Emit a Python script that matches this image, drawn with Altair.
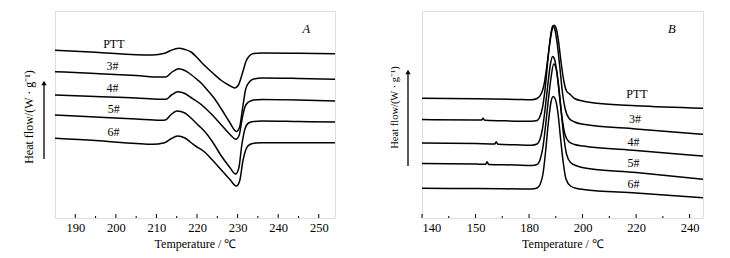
import altair as alt
import pandas as pd

FONT = "Liberation Serif"
BASE = 217  # readings below are depths from the top of the figure; heat flow = BASE - depth

# ---------------- Panel A (melting) ----------------
a_ptt_t = [185, 195, 205, 209, 212, 213.5, 215.5, 217, 218.5, 220, 221, 222, 224, 226, 228, 229.3, 230.2, 231.2, 232.1, 233, 234, 236, 245, 254]
a_ptt_v = [49.3, 51.3, 53.8, 54, 52.3, 49.5, 47.3, 48.5, 51, 56.5, 61, 65, 72.5, 79.5, 84.5, 87, 84, 72, 60, 54.5, 52.5, 52, 52.3, 52.7]

a_3_t = [185, 195, 205, 211, 212.3, 213.7, 215.5, 217, 218.5, 220, 221, 222, 224, 226, 228, 229.7, 230.5, 231.2, 232, 233, 234, 236, 245, 254]
a_3_v = [70.7, 72.5, 74.5, 76, 76, 71.5, 67.7, 69.5, 73.5, 78.5, 82, 86.5, 96, 108, 121, 130.5, 126, 108, 88, 80.5, 78, 77, 77.5, 78.3]

a_4_t = [185, 195, 205, 211, 212.3, 213.7, 215.3, 217, 218.5, 220, 221, 222, 224, 226, 228, 229.6, 230.4, 231.1, 231.8, 232.7, 234, 236, 245, 254]
a_4_v = [94, 95.5, 97, 98.3, 98.3, 94, 90.7, 92.5, 96.5, 100.5, 103.3, 107, 115, 124, 133, 138.3, 134, 118, 106, 101, 99, 98.5, 99, 100]

a_5_t = [185, 195, 205, 211, 212.2, 213.5, 215, 217, 218.5, 220, 221, 222, 224, 226, 228, 229.5, 230.3, 231, 231.8, 232.7, 234, 236, 245, 254]
a_5_v = [114, 116, 118, 119.3, 119, 114, 110, 112, 117, 123, 126.7, 131, 142, 155, 166, 173, 167, 145, 128, 122, 120.5, 120, 120.5, 121]

a_6_t = [185, 195, 205, 209, 212, 213.5, 215.2, 217, 218.5, 220, 221, 222, 224, 226, 228, 229.7, 230.5, 231.3, 232.1, 233, 234.5, 236, 254]
a_6_v = [137.3, 139.5, 142.5, 143.3, 141.7, 138, 135, 137, 141.5, 146, 148.3, 151.5, 160, 169, 178, 185, 180, 160, 148, 143.5, 142, 141.7, 141.7]

a_names = ["PTT", "3#", "4#", "5#", "6#"]
a_label_t = [199.5, 199.2, 199.2, 199.5, 199.4]
a_label_v = [43.3, 65, 86.7, 108.3, 130.7]

a_ticks_major = [190, 200, 210, 220, 230, 240, 250]
a_ticks_minor = [195, 205, 215, 225, 235, 245]

# ---------------- Panel B (crystallisation) ----------------
b_ptt_t = [140, 160, 175, 181, 183, 184.5, 185.5, 186.5, 187.5, 188.5, 189.3, 190.2, 191, 192, 193, 194, 195.3, 197, 200, 205.3, 220, 245]
b_ptt_v = [97.3, 97.8, 98.4, 98.7, 97.5, 93, 85, 68, 47, 30, 24.3, 28, 40, 62, 80, 90, 93.3, 97.5, 100, 102.3, 104.8, 107.3]

b_3_t = [140, 160, 162.3, 162.8, 163.4, 170, 181, 183, 184, 185, 186, 187, 188, 188.8, 189.6, 190.5, 191.5, 192.5, 193.5, 195, 197, 200.3, 220, 245]
b_3_v = [118.5, 119, 119, 117.2, 119.3, 119.8, 120.3, 119.5, 116, 107, 88, 60, 36, 25, 28, 42, 66, 92, 108, 117.5, 121, 123.3, 128, 133.3]

b_4_t = [140, 160, 167.2, 167.7, 168.4, 175, 181, 183, 184, 185, 186, 187, 188, 188.8, 189.6, 190.5, 191.5, 192.5, 193.5, 195, 197, 200.3, 220, 245]
b_4_v = [142, 142.5, 143, 140.8, 143.3, 143.8, 144.2, 143, 139, 128, 108, 84, 63, 55.5, 59, 74, 98, 120, 134, 141, 143.5, 145, 149.5, 155]

b_5_t = [140, 160, 163.8, 164.3, 164.9, 175, 181, 183, 184.2, 185.2, 186.2, 187.2, 188.2, 189.2, 190, 191, 192, 193, 194, 195.5, 198, 200.3, 220, 245]
b_5_v = [162.5, 163, 163.3, 160.8, 163.5, 164, 164.5, 163.5, 158, 146, 124, 99, 77, 63, 66, 83, 110, 136, 153, 161.5, 165, 166.7, 171.5, 178.3]

b_6_t = [140, 160, 181, 183, 184.2, 185.2, 186.2, 187.2, 188.2, 189, 189.8, 190.8, 191.8, 192.8, 193.8, 195.5, 198, 200.3, 220, 245]
b_6_v = [187.3, 187.6, 188, 187, 183, 173, 150, 122, 101, 95.5, 98, 112, 138, 162, 178, 185, 187.5, 188.5, 192, 196.7]

b_names = ["PTT", "3#", "4#", "5#", "6#"]
b_label_t = [220.3, 219.6, 219, 219, 219]
b_label_v = [93.3, 118.3, 141, 161.7, 183.3]

b_ticks_major = [140, 160, 180, 200, 220, 240]
b_ticks_minor = [150, 170, 190, 210, 230]


def curves(names, ts, vs):
    rows = []
    for n, t, v in zip(names, ts, vs):
        for ti, vi in zip(t, v):
            rows.append({"series": n, "T": ti, "hf": BASE - vi})
    return pd.DataFrame(rows)


def panel(df, lab_df, letter_df, major, minor, domain, width, ytitle_x, ytitle_y,
          ytitle_size, arrow_x, arrow_top, arrow_bot, label_expr):
    x_enc = alt.X("T:Q", scale=alt.Scale(domain=domain, nice=False, zero=False),
                  axis=alt.Axis(values=major, ticks=False, domain=False, grid=False,
                                labelPadding=3, labelFont=FONT, labelFontSize=12.5,
                                labelColor="black", labelExpr=label_expr,
                                title="Temperature / ℃", titleFont=FONT, titleFontSize=12,
                                titleFontWeight="normal", titleColor="black",
                                titleY=25, titleBaseline="middle"))
    y_enc = alt.Y("hf:Q", scale=alt.Scale(domain=[0, 207], nice=False, zero=False),
                  axis=alt.Axis(labels=False, ticks=False, domain=False, grid=False,
                                title="Heat flow/(W · g⁻¹)", titleFont=FONT,
                                titleFontSize=ytitle_size, titleFontWeight="normal",
                                titleColor="black", titleAngle=270, titleX=ytitle_x,
                                titleY=ytitle_y, titleAlign="center",
                                titleBaseline="middle"))
    lines = alt.Chart(df).mark_line(color="black", strokeWidth=1.5, interpolate="monotone").encode(
        x=x_enc, y=y_enc, detail="series:N")
    labels = alt.Chart(lab_df).mark_text(font=FONT, fontSize=12, color="black").encode(
        x=x_enc, y=y_enc, text="series:N")
    letter = alt.Chart(letter_df).mark_text(font=FONT, fontSize=12.5, fontStyle="italic",
                                            color="black").encode(x=x_enc, y=y_enc, text="series:N")
    tmaj = alt.Chart(pd.DataFrame({"T": major})).mark_rule(color="black", strokeWidth=1).encode(
        x=x_enc, y=alt.value(207), y2=alt.value(203))
    tmin = alt.Chart(pd.DataFrame({"T": minor})).mark_rule(color="black", strokeWidth=1).encode(
        x=x_enc, y=alt.value(207), y2=alt.value(205))
    one = pd.DataFrame({"k": [0]})
    arrow = alt.Chart(one).mark_rule(color="black", strokeWidth=1.3).encode(
        x=alt.value(arrow_x), y=alt.value(arrow_top + 5), y2=alt.value(arrow_bot))
    head = alt.Chart(one).mark_point(shape="triangle-up", filled=True, color="black",
                                     size=28, opacity=1).encode(
        x=alt.value(arrow_x), y=alt.value(arrow_top + 4))
    return alt.layer(lines, labels, letter, tmaj, tmin, arrow, head).properties(
        width=width, height=207)


dfa = curves(a_names, [a_ptt_t, a_3_t, a_4_t, a_5_t, a_6_t], [a_ptt_v, a_3_v, a_4_v, a_5_v, a_6_v])
dfb = curves(b_names, [b_ptt_t, b_3_t, b_4_t, b_5_t, b_6_t], [b_ptt_v, b_3_v, b_4_v, b_5_v, b_6_v])
laba = pd.DataFrame({"series": a_names, "T": a_label_t, "hf": [BASE - v for v in a_label_v]})
labb = pd.DataFrame({"series": b_names, "T": b_label_t, "hf": [BASE - v for v in b_label_v]})
leta = pd.DataFrame({"series": ["A"], "T": [246.9], "hf": [BASE - 28]})
letb = pd.DataFrame({"series": ["B"], "T": [233.3], "hf": [BASE - 28.3]})

pa = panel(dfa, laba, leta, a_ticks_major, a_ticks_minor, [185, 254], 280,
           -27, 105.5, 12, -11, 68, 148, "datum.label")
pb = panel(dfb, labb, letb, b_ticks_major, b_ticks_minor, [140, 245], 281,
           -28, 96, 10.5, -14, 57, 155, "datum.value == 160 ? '150' : datum.label")

chart = alt.hconcat(pa, pb, spacing=49).properties(
    padding={"left": 13, "top": 2, "right": 5, "bottom": 2}
).configure_view(stroke="black", strokeWidth=1).configure(background="white")

chart.save("out.html", embed_options={"renderer": "svg", "actions": False})
